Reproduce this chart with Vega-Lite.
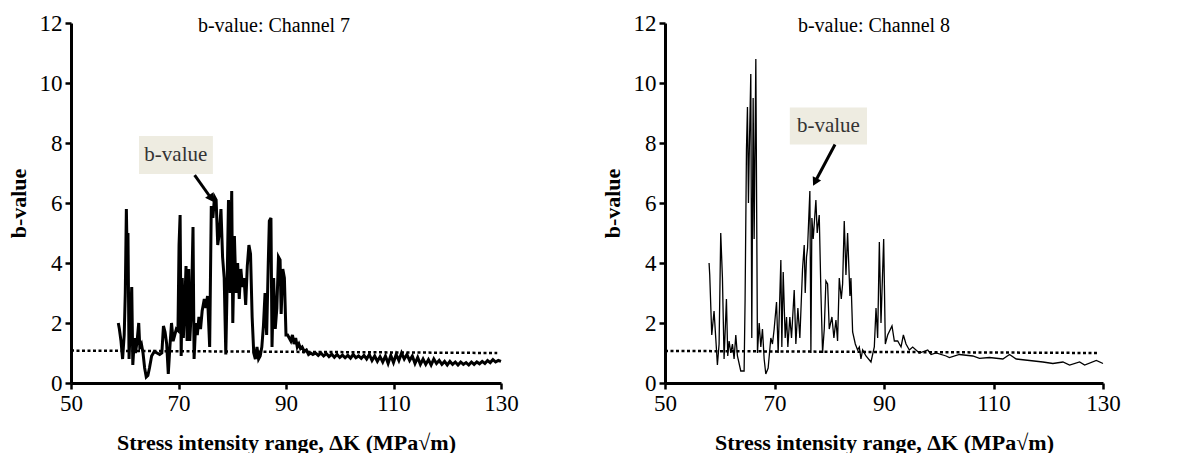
{
  "$schema": "https://vega.github.io/schema/vega-lite/v6.json",
  "padding": {"left": 7, "top": 12, "right": 5, "bottom": 0},
  "background": "white",
  "spacing": 82,
  "datasets": {
    "ch7": [
      {"k":58.8,"b":2.0},{"k":59.0,"b":1.8},{"k":59.3,"b":1.4},{"k":59.6,"b":0.8},{"k":59.9,"b":1.6},{"k":60.1,"b":3.0},{"k":60.3,"b":5.8},{"k":60.45,"b":4.2},{"k":60.6,"b":5.0},{"k":60.8,"b":0.8},
      {"k":61.0,"b":1.8},{"k":61.3,"b":3.2},{"k":61.5,"b":0.6},{"k":61.8,"b":1.5},{"k":62.0,"b":1.0},{"k":62.3,"b":1.4},{"k":62.6,"b":2.0},{"k":62.8,"b":1.2},{"k":63.1,"b":1.3},{"k":63.4,"b":1.0},
      {"k":63.7,"b":0.5},{"k":64.0,"b":0.2},{"k":64.3,"b":0.25},{"k":64.6,"b":0.5},{"k":65.0,"b":0.9},{"k":65.5,"b":1.05},{"k":66.0,"b":1.0},{"k":66.5,"b":0.95},{"k":66.9,"b":1.0},{"k":67.2,"b":1.9},
      {"k":67.5,"b":1.7},{"k":67.8,"b":1.3},{"k":68.1,"b":0.3},{"k":68.4,"b":1.2},{"k":68.7,"b":2.0},{"k":69.0,"b":1.4},{"k":69.3,"b":1.6},{"k":69.6,"b":1.8},{"k":69.9,"b":1.75},{"k":70.1,"b":4.6},
      {"k":70.3,"b":5.6},{"k":70.5,"b":0.9},{"k":70.7,"b":3.5},{"k":70.9,"b":1.5},{"k":71.2,"b":2.8},{"k":71.4,"b":3.9},{"k":71.6,"b":1.4},{"k":71.9,"b":3.8},{"k":72.1,"b":1.4},{"k":72.4,"b":2.5},
      {"k":72.7,"b":5.2},{"k":72.9,"b":0.8},{"k":73.2,"b":2.0},{"k":73.5,"b":1.6},{"k":73.8,"b":2.2},{"k":74.1,"b":1.8},{"k":74.4,"b":2.4},{"k":74.8,"b":2.8},{"k":75.1,"b":2.5},{"k":75.4,"b":2.9},
      {"k":75.8,"b":1.2},{"k":76.1,"b":5.9},{"k":76.4,"b":5.5},{"k":76.7,"b":6.2},{"k":77.0,"b":6.1},{"k":77.3,"b":4.6},{"k":77.6,"b":5.0},{"k":77.9,"b":5.8},{"k":78.2,"b":4.2},{"k":78.5,"b":3.5},
      {"k":78.8,"b":0.95},{"k":79.0,"b":2.8},{"k":79.3,"b":6.1},{"k":79.6,"b":3.0},{"k":79.9,"b":6.4},{"k":80.1,"b":2.0},{"k":80.4,"b":4.9},{"k":80.7,"b":3.0},{"k":81.0,"b":4.0},{"k":81.3,"b":2.8},
      {"k":81.6,"b":3.8},{"k":81.9,"b":3.2},{"k":82.2,"b":3.5},{"k":82.5,"b":2.6},{"k":82.8,"b":3.9},{"k":83.1,"b":4.6},{"k":83.4,"b":4.3},{"k":83.7,"b":2.2},{"k":84.0,"b":1.0},{"k":84.3,"b":0.8},
      {"k":84.6,"b":1.2},{"k":84.9,"b":0.8},{"k":85.2,"b":0.9},{"k":85.5,"b":1.2},{"k":85.8,"b":1.9},{"k":86.1,"b":3.0},{"k":86.4,"b":1.6},{"k":86.7,"b":4.0},{"k":86.9,"b":5.4},{"k":87.2,"b":5.5},
      {"k":87.4,"b":1.2},{"k":87.7,"b":3.5},{"k":88.0,"b":1.8},{"k":88.3,"b":2.5},{"k":88.6,"b":4.2},{"k":88.9,"b":4.1},{"k":89.1,"b":2.3},{"k":89.4,"b":3.8},{"k":89.7,"b":3.5},{"k":90.0,"b":1.6},
      {"k":90.3,"b":1.6},{"k":90.6,"b":1.5},{"k":90.9,"b":1.4},{"k":91.2,"b":1.6},{"k":91.5,"b":1.3},{"k":91.8,"b":1.5},{"k":92.1,"b":1.2},{"k":92.4,"b":1.3},{"k":92.7,"b":1.15},{"k":93.0,"b":1.2},
      {"k":93.4,"b":1.05},{"k":93.8,"b":1.1},{"k":94.2,"b":0.95},{"k":94.6,"b":1.0},{"k":95.0,"b":0.95},{"k":95.5,"b":1.0},{"k":96.0,"b":0.92},{"k":96.5,"b":1.0},{"k":97.0,"b":0.9},{"k":97.5,"b":0.98},
      {"k":98.0,"b":0.88},{"k":98.5,"b":0.96},{"k":99.0,"b":0.86},{"k":99.5,"b":0.95},{"k":100.0,"b":0.85},{"k":100.5,"b":0.93},{"k":101.0,"b":0.84},{"k":101.5,"b":0.92},{"k":102.0,"b":0.83},{"k":102.5,"b":0.95},
      {"k":103.0,"b":0.84},{"k":103.5,"b":0.9},{"k":104.0,"b":0.82},{"k":104.5,"b":0.92},{"k":105.0,"b":0.8},{"k":105.5,"b":0.95},{"k":106.0,"b":0.75},{"k":106.5,"b":0.9},{"k":107.0,"b":0.72},{"k":107.5,"b":0.88},
      {"k":108.0,"b":0.7},{"k":108.5,"b":0.9},{"k":109.0,"b":0.65},{"k":109.5,"b":0.92},{"k":110.0,"b":0.68},{"k":110.5,"b":0.95},{"k":111.0,"b":0.75},{"k":111.5,"b":1.0},{"k":112.0,"b":0.8},{"k":112.5,"b":0.95},
      {"k":113.0,"b":0.75},{"k":113.5,"b":0.9},{"k":114.0,"b":0.65},{"k":114.5,"b":0.85},{"k":115.0,"b":0.62},{"k":115.5,"b":0.8},{"k":116.0,"b":0.62},{"k":116.5,"b":0.78},{"k":117.0,"b":0.6},{"k":117.5,"b":0.8},
      {"k":118.0,"b":0.65},{"k":118.5,"b":0.75},{"k":119.0,"b":0.62},{"k":119.5,"b":0.72},{"k":120.0,"b":0.6},{"k":120.5,"b":0.72},{"k":121.0,"b":0.62},{"k":121.5,"b":0.7},{"k":122.0,"b":0.6},{"k":122.5,"b":0.7},
      {"k":123.0,"b":0.62},{"k":123.5,"b":0.68},{"k":124.0,"b":0.6},{"k":124.5,"b":0.7},{"k":125.0,"b":0.62},{"k":125.5,"b":0.7},{"k":126.0,"b":0.64},{"k":126.5,"b":0.72},{"k":127.0,"b":0.65},{"k":127.5,"b":0.75},
      {"k":128.0,"b":0.68},{"k":128.5,"b":0.78},{"k":129.0,"b":0.7},{"k":129.5,"b":0.75},{"k":130.0,"b":0.72}
    ],
    "ch8": [
      {"k":58.05,"b":4.0},{"k":58.17,"b":3.6},{"k":58.54,"b":1.6},{"k":58.96,"b":2.4},{"k":59.27,"b":1.5},{"k":59.57,"b":0.6},{"k":59.88,"b":1.3},{"k":60.18,"b":5.0},{"k":60.49,"b":3.5},{"k":60.79,"b":0.8},
      {"k":61.22,"b":2.8},{"k":61.46,"b":0.9},{"k":61.71,"b":1.4},{"k":62.01,"b":1.0},{"k":62.32,"b":1.3},{"k":62.62,"b":0.8},{"k":62.93,"b":1.6},{"k":63.23,"b":0.9},{"k":63.84,"b":0.4},{"k":64.45,"b":0.4},
      {"k":64.63,"b":2.8},{"k":64.88,"b":7.8},{"k":65.06,"b":9.2},{"k":65.24,"b":6.0},{"k":65.37,"b":7.5},{"k":65.67,"b":10.3},{"k":65.85,"b":1.5},{"k":66.10,"b":9.5},{"k":66.28,"b":4.8},{"k":66.46,"b":8.2},
      {"k":66.59,"b":10.8},{"k":66.89,"b":1.0},{"k":67.20,"b":2.0},{"k":67.50,"b":1.2},{"k":67.80,"b":1.8},{"k":68.11,"b":0.8},{"k":68.41,"b":0.3},{"k":68.84,"b":0.5},{"k":69.33,"b":1.5},{"k":69.63,"b":1.3},
      {"k":69.94,"b":1.8},{"k":70.37,"b":2.7},{"k":70.67,"b":1.0},{"k":71.16,"b":4.1},{"k":71.34,"b":1.2},{"k":71.59,"b":3.7},{"k":71.95,"b":1.5},{"k":72.20,"b":2.2},{"k":72.44,"b":1.2},{"k":72.80,"b":2.2},
      {"k":73.11,"b":1.5},{"k":73.60,"b":3.1},{"k":73.90,"b":1.3},{"k":74.27,"b":2.5},{"k":74.63,"b":1.5},{"k":75.12,"b":3.8},{"k":75.43,"b":4.6},{"k":75.61,"b":3.0},{"k":75.85,"b":4.2},{"k":76.04,"b":4.5},
      {"k":76.46,"b":6.4},{"k":76.65,"b":1.0},{"k":76.83,"b":5.5},{"k":77.07,"b":4.8},{"k":77.56,"b":6.1},{"k":77.80,"b":5.0},{"k":78.17,"b":5.6},{"k":78.48,"b":3.0},{"k":78.78,"b":1.0},{"k":79.09,"b":1.8},
      {"k":79.39,"b":3.4},{"k":79.70,"b":3.3},{"k":80.00,"b":1.8},{"k":80.49,"b":2.2},{"k":80.85,"b":1.5},{"k":81.22,"b":2.1},{"k":81.52,"b":1.4},{"k":81.83,"b":3.5},{"k":82.20,"b":2.8},{"k":82.44,"b":3.3},
      {"k":82.74,"b":5.4},{"k":83.05,"b":3.6},{"k":83.35,"b":5.0},{"k":83.78,"b":2.9},{"k":83.96,"b":3.5},{"k":84.27,"b":1.7},{"k":84.76,"b":1.3},{"k":85.18,"b":1.1},{"k":85.49,"b":1.2},{"k":85.79,"b":0.8},
      {"k":86.10,"b":1.1},{"k":86.71,"b":0.9},{"k":87.62,"b":0.7},{"k":88.23,"b":1.2},{"k":88.54,"b":2.5},{"k":88.84,"b":1.5},{"k":89.15,"b":4.7},{"k":89.45,"b":2.0},{"k":89.94,"b":4.8},{"k":90.24,"b":1.3},
      {"k":90.67,"b":1.6},{"k":91.46,"b":1.9},{"k":91.89,"b":1.4},{"k":92.50,"b":1.4},{"k":93.11,"b":1.2},{"k":93.54,"b":1.6},{"k":94.02,"b":1.3},{"k":94.63,"b":1.1},{"k":95.24,"b":1.2},{"k":96.46,"b":1.0},
      {"k":97.99,"b":1.1},{"k":98.60,"b":0.95},{"k":99.51,"b":1.0},{"k":101.34,"b":0.9},{"k":101.95,"b":0.85},{"k":103.78,"b":0.95},{"k":106.22,"b":0.9},{"k":107.44,"b":0.82},{"k":109.27,"b":0.85},{"k":111.71,"b":0.8},
      {"k":112.93,"b":0.95},{"k":114.15,"b":0.8},{"k":116.59,"b":0.75},{"k":119.02,"b":0.7},{"k":120.85,"b":0.65},{"k":122.68,"b":0.7},{"k":123.90,"b":0.6},{"k":125.73,"b":0.7},{"k":126.65,"b":0.6},{"k":128.78,"b":0.75},
      {"k":130.0,"b":0.65}
    ],
    "ref7": [{"k":50,"b":1.08},{"k":129.3,"b":1.0}],
    "ref8": [{"k":50,"b":1.07},{"k":128.9,"b":1.0}],
    "box7": [{"x1":62.65,"x2":76.4,"y1":6.97,"y2":8.23,"xm":69.5,"ym":7.6,"label":"b-value"}],
    "box8": [{"x1":72.8,"x2":86.9,"y1":7.95,"y2":9.18,"xm":79.85,"ym":8.56,"label":"b-value"}],
    "arr7": [{"xs":73.0,"ys":6.93,"xe":76.1,"ye":6.15}],
    "arr8": [{"xs":81.05,"ys":7.95,"xe":77.4,"ye":6.7}]
  },
  "config": {
    "view": {"stroke": null},
    "font": "Liberation Serif",
    "axis": {
      "grid": false,
      "domainColor": "black",
      "domainWidth": 3,
      "tickColor": "black",
      "tickWidth": 2.5,
      "tickSize": 6,
      "labelFont": "Liberation Serif",
      "labelFontSize": 23,
      "labelColor": "black",
      "labelPadding": 3,
      "labelFlush": false,
      "labelOverlap": false,
      "titleFont": "Liberation Serif",
      "titleFontSize": 22,
      "titleFontWeight": "bold",
      "titleColor": "black"
    },
    "title": {"font": "Liberation Serif", "fontSize": 20, "fontWeight": "normal", "color": "black"}
  },
  "hconcat": [
    {
      "width": 430,
      "height": 360,
      "title": {"text": "b-value: Channel 7", "anchor": "middle", "frame": "group", "offset": -24, "dx": -12},
      "layer": [
        {
          "data": {"name": "ref7"},
          "mark": {"type": "line", "color": "black", "strokeWidth": 2.5, "strokeDash": [3, 2.5]},
          "encoding": {
            "x": {"field": "k", "type": "quantitative", "scale": {"domain": [50, 130], "nice": false}, "axis": {"values": [50, 70, 90, 110, 130], "title": "Stress intensity range, ΔK (MPa√m)", "titlePadding": 17}},
            "y": {"field": "b", "type": "quantitative", "scale": {"domain": [0, 12], "nice": false}, "axis": {"values": [0, 2, 4, 6, 8, 10, 12], "title": "b-value", "titlePadding": 9}}
          }
        },
        {
          "data": {"name": "ch7"},
          "mark": {"type": "line", "color": "black", "strokeWidth": 3},
          "encoding": {
            "x": {"field": "k", "type": "quantitative"},
            "y": {"field": "b", "type": "quantitative"}
          }
        },
        {
          "data": {"name": "box7"},
          "mark": {"type": "rect", "fill": "#eeece1"},
          "encoding": {
            "x": {"field": "x1", "type": "quantitative"},
            "x2": {"field": "x2"},
            "y": {"field": "y1", "type": "quantitative"},
            "y2": {"field": "y2"}
          }
        },
        {
          "data": {"name": "box7"},
          "mark": {"type": "text", "fontSize": 21, "color": "#333333", "font": "Liberation Serif"},
          "encoding": {
            "x": {"field": "xm", "type": "quantitative"},
            "y": {"field": "ym", "type": "quantitative"},
            "text": {"field": "label"}
          }
        },
        {
          "data": {"name": "arr7"},
          "mark": {"type": "rule", "color": "black", "strokeWidth": 3},
          "encoding": {
            "x": {"field": "xs", "type": "quantitative"},
            "y": {"field": "ys", "type": "quantitative"},
            "x2": {"field": "xe"},
            "y2": {"field": "ye"}
          }
        },
        {
          "data": {"name": "arr7"},
          "mark": {"type": "point", "shape": "triangle-up", "filled": true, "color": "black", "size": 90, "angle": 146, "opacity": 1},
          "encoding": {
            "x": {"field": "xe", "type": "quantitative"},
            "y": {"field": "ye", "type": "quantitative"}
          }
        }
      ]
    },
    {
      "width": 438,
      "height": 360,
      "title": {"text": "b-value: Channel 8", "anchor": "middle", "frame": "group", "offset": -24, "dx": -10},
      "layer": [
        {
          "data": {"name": "ref8"},
          "mark": {"type": "line", "color": "black", "strokeWidth": 2.5, "strokeDash": [3, 2.5]},
          "encoding": {
            "x": {"field": "k", "type": "quantitative", "scale": {"domain": [50, 130], "nice": false}, "axis": {"values": [50, 70, 90, 110, 130], "title": "Stress intensity range, ΔK (MPa√m)", "titlePadding": 17}},
            "y": {"field": "b", "type": "quantitative", "scale": {"domain": [0, 12], "nice": false}, "axis": {"values": [0, 2, 4, 6, 8, 10, 12], "title": "b-value", "titlePadding": 9}}
          }
        },
        {
          "data": {"name": "ch8"},
          "mark": {"type": "line", "color": "black", "strokeWidth": 1.3},
          "encoding": {
            "x": {"field": "k", "type": "quantitative"},
            "y": {"field": "b", "type": "quantitative"}
          }
        },
        {
          "data": {"name": "box8"},
          "mark": {"type": "rect", "fill": "#eeece1"},
          "encoding": {
            "x": {"field": "x1", "type": "quantitative"},
            "x2": {"field": "x2"},
            "y": {"field": "y1", "type": "quantitative"},
            "y2": {"field": "y2"}
          }
        },
        {
          "data": {"name": "box8"},
          "mark": {"type": "text", "fontSize": 21, "color": "#333333", "font": "Liberation Serif"},
          "encoding": {
            "x": {"field": "xm", "type": "quantitative"},
            "y": {"field": "ym", "type": "quantitative"},
            "text": {"field": "label"}
          }
        },
        {
          "data": {"name": "arr8"},
          "mark": {"type": "rule", "color": "black", "strokeWidth": 3},
          "encoding": {
            "x": {"field": "xs", "type": "quantitative"},
            "y": {"field": "ys", "type": "quantitative"},
            "x2": {"field": "xe"},
            "y2": {"field": "ye"}
          }
        },
        {
          "data": {"name": "arr8"},
          "mark": {"type": "point", "shape": "triangle-up", "filled": true, "color": "black", "size": 90, "angle": 208, "opacity": 1},
          "encoding": {
            "x": {"field": "xe", "type": "quantitative"},
            "y": {"field": "ye", "type": "quantitative"}
          }
        }
      ]
    }
  ]
}
